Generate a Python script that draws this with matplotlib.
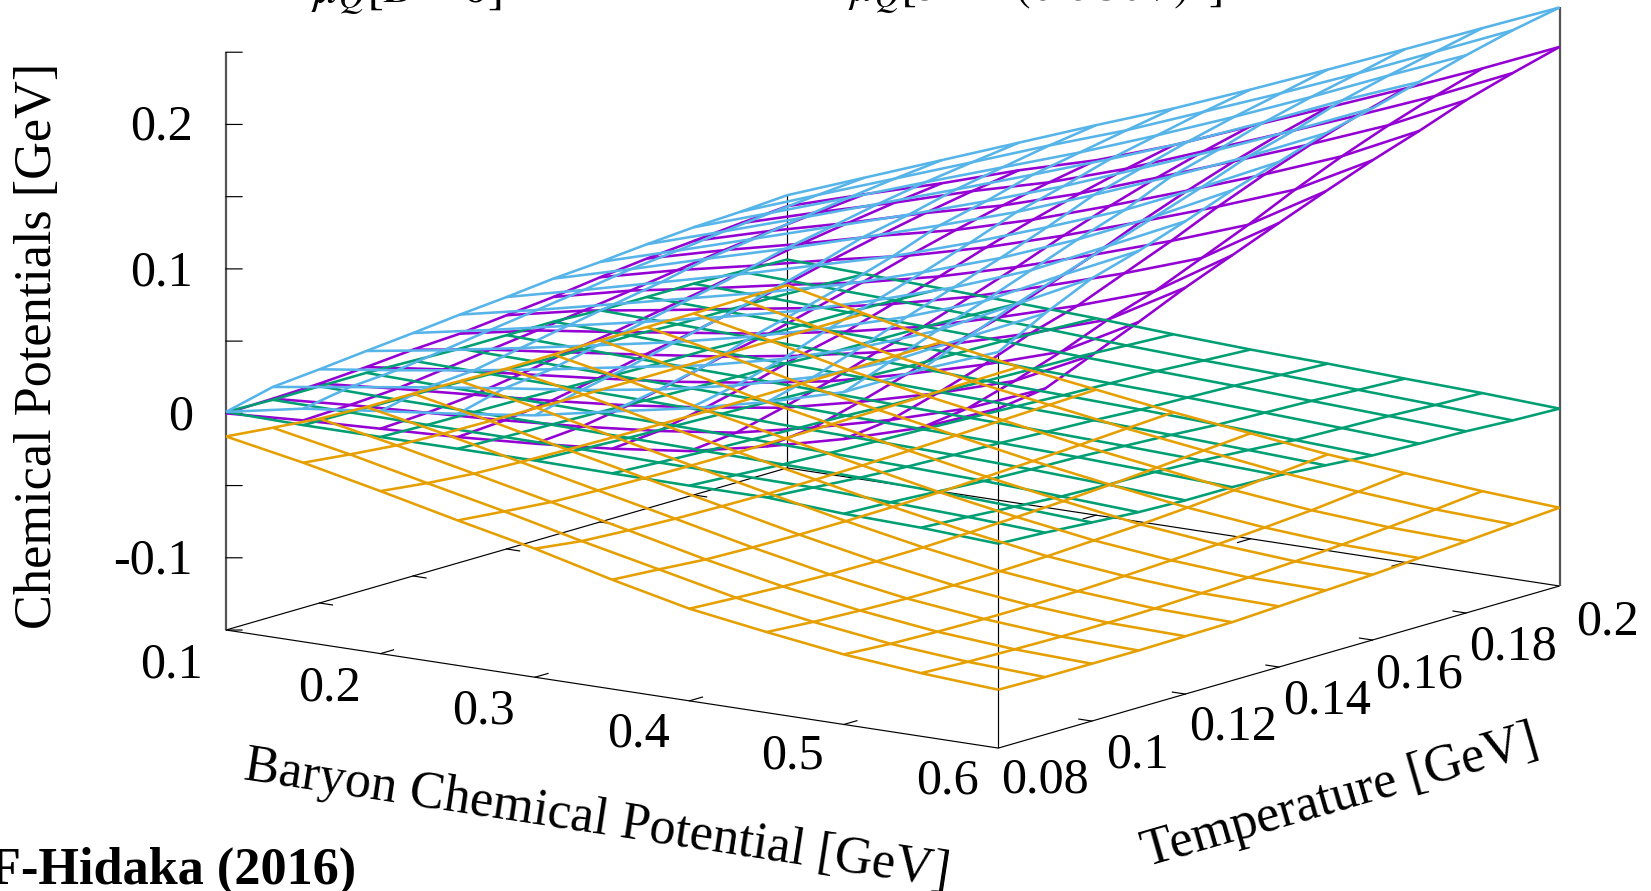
import numpy as np
import matplotlib
matplotlib.use("Agg")
import matplotlib.pyplot as plt
from mpl_toolkits.mplot3d import proj3d

plt.rcParams['font.family'] = ['Liberation Serif', 'DejaVu Serif']
plt.rcParams['mathtext.fontset'] = 'stix'

# ---- data ----
mu_b = [0.10, 0.15, 0.20, 0.25, 0.30, 0.35, 0.40, 0.45, 0.50, 0.55, 0.60]
temp = [0.08, 0.09, 0.10, 0.11, 0.12, 0.13, 0.14, 0.15, 0.16, 0.17, 0.18, 0.19, 0.20]

# rows: mu_b, columns: temperature
purple_z = [
 [0,.0008,.0019,.004,.0067,.0084,.0118,.0151,.0194,.023,.0258,.0287,.0312],
 [.0033,.0046,.0065,.0105,.0148,.0188,.0232,.0277,.0325,.037,.041,.0445,.0476],
 [.0057,.0074,.0105,.0155,.0212,.0259,.0317,.0374,.0438,.0496,.0547,.0594,.0634],
 [.0081,.0103,.0145,.0207,.0277,.0335,.0407,.048,.056,.0632,.0697,.0755,.0806],
 [.0117,.0142,.0195,.0265,.0346,.0411,.0495,.0579,.0671,.0755,.0831,.0898,.0957],
 [.0164,.0193,.0262,.034,.0433,.0507,.0605,.0702,.081,.0908,.0996,.1074,.1143],
 [.0229,.0263,.0342,.0432,.0539,.0623,.0736,.0849,.0973,.1086,.1187,.1277,.1356],
 [.0343,.038,.0465,.0563,.068,.0771,.0894,.1016,.1151,.1273,.1383,.1481,.1567],
 [.0476,.0515,.0606,.0711,.0835,.0932,.1063,.1193,.1337,.1467,.1584,.1689,.178],
 [.0636,.0677,.0773,.0882,.1011,.1114,.125,.1387,.1537,.1674,.1796,.1905,.2001],
 [.085,.0895,.1032,.1169,.1314,.1444,.1574,.17,.1821,.1931,.205,.2145,.2232],
]
green_z = [
 [.001,0,0,0,-.001,-.002,-.002,-.002,-.0035,-.0036,-.0037,-.0047,-.0057],
 [0,-.0005,-.001,-.0012,-.002,-.003,-.0035,-.0035,-.005,-.0052,-.0055,-.0065,-.0076],
 [0,-.001,-.0015,-.002,-.003,-.004,-.0048,-.005,-.0065,-.0068,-.0072,-.0083,-.0095],
 [0,-.0012,-.002,-.003,-.004,-.005,-.006,-.0065,-.008,-.0085,-.009,-.0102,-.0115],
 [0,-.0015,-.003,-.004,-.005,-.006,-.0073,-.008,-.0095,-.0102,-.0108,-.0122,-.0137],
 [-.0007,-.0025,-.004,-.0052,-.0065,-.0075,-.009,-.0098,-.0115,-.0125,-.0132,-.015,-.0166],
 [-.001,-.003,-.005,-.0065,-.0077,-.0088,-.0102,-.0115,-.0132,-.0143,-.0152,-.0172,-.019],
 [-.001,-.0035,-.006,-.0078,-.009,-.01,-.0116,-.013,-.015,-.016,-.0172,-.019,-.0206],
 [-.0041,-.0055,-.0075,-.0095,-.0108,-.0117,-.0133,-.015,-.0172,-.0183,-.0195,-.0212,-.0228],
 [-.0056,-.0075,-.0098,-.012,-.0132,-.0138,-.0152,-.0173,-.0197,-.0208,-.0218,-.0235,-.0246],
 [-.0085,-.0102,-.0125,-.0147,-.0159,-.0161,-.0173,-.0197,-.0222,-.0234,-.0242,-.026,-.0272],
]
blue_z = [
 [.001,.0089,.0118,.0151,.0182,.0216,.0244,.0278,.03,.0329,.0353,.0367,.0388],
 [.0114,.017,.0193,.0238,.0285,.033,.0375,.0425,.046,.05,.0535,.0565,.0591],
 [.0179,.025,.0274,.0335,.0395,.0452,.051,.058,.0625,.0675,.072,.076,.0794],
 [.0242,.0325,.0363,.0436,.0505,.0575,.0645,.073,.079,.0855,.091,.0955,.0997],
 [.0313,.0395,.046,.054,.062,.07,.079,.089,.0955,.1035,.1095,.1153,.12],
 [.0422,.048,.0554,.066,.0745,.0835,.0935,.1055,.113,.122,.128,.134,.1397],
 [.0525,.059,.068,.08,.09,.1,.111,.123,.1315,.141,.148,.155,.161],
 [.065,.073,.084,.096,.107,.118,.13,.143,.152,.161,.169,.176,.183],
 [.0801,.092,.104,.115,.127,.139,.15,.164,.173,.183,.191,.198,.2053],
 [.1038,.117,.13,.141,.152,.163,.174,.186,.195,.206,.214,.221,.228],
 [.1242,.1416,.1565,.1661,.1773,.1894,.1997,.2102,.2181,.227,.2361,.2441,.2505],
]
orange_z = [
 [-.016,-.0193,-.0224,-.0237,-.0238,-.0244,-.0251,-.0248,-.0242,-.0244,-.0244,-.0239,-.0235],
 [-.026,-.0296,-.0327,-.0339,-.0345,-.0348,-.035,-.0352,-.0352,-.0352,-.0352,-.0351,-.035],
 [-.0375,-.0413,-.0441,-.0454,-.0462,-.0468,-.0472,-.0475,-.0475,-.0473,-.0471,-.0468,-.0465],
 [-.0496,-.0527,-.0556,-.0569,-.0577,-.0583,-.0585,-.0583,-.0578,-.0573,-.0567,-.0561,-.0556],
 [-.061,-.0651,-.067,-.0683,-.069,-.0695,-.0693,-.0688,-.068,-.0668,-.0655,-.0643,-.0631],
 [-.0743,-.0765,-.079,-.08,-.0805,-.0805,-.08,-.0792,-.0778,-.0763,-.0745,-.0725,-.0706],
 [-.0862,-.088,-.0895,-.0905,-.0908,-.0905,-.0895,-.0882,-.0865,-.0845,-.082,-.0795,-.077],
 [-.0942,-.0965,-.098,-.099,-.0992,-.0988,-.0978,-.0962,-.0945,-.0922,-.0895,-.0865,-.0834],
 [-.1015,-.1035,-.1045,-.105,-.105,-.1045,-.1033,-.1018,-.1,-.0978,-.0952,-.0917,-.0882],
 [-.1063,-.1078,-.1085,-.109,-.1088,-.1083,-.107,-.1055,-.1037,-.1015,-.0988,-.0958,-.0925],
 [-.1096,-.1102,-.1103,-.1105,-.11,-.1096,-.108,-.1063,-.1048,-.1026,-.1004,-.098,-.0958],
]

z_ticks = [-0.15, -0.10, -0.05, 0.0, 0.05, 0.10, 0.15, 0.20, 0.25]
mu_ticks = [0.2, 0.3, 0.4, 0.5]
t_ticks = [0.10, 0.12, 0.14, 0.16, 0.18]
z_labels = ["-0.1", "0", "0.1", "0.2"]
mu_labels = ["0.1", "0.2", "0.3", "0.4", "0.5", "0.6"]
t_labels = ["0.08", "0.1", "0.12", "0.14", "0.16", "0.18", "0.2"]

W_PX, H_PX = 1651, 891
MU0, MU1 = 0.1, 0.6
T0, T1 = 0.08, 0.2
Z0, Z1 = -0.15, 0.25
FS = 37.6
FS_TICK = 36.2

fig = plt.figure(figsize=(W_PX / 100, H_PX / 100), dpi=100, facecolor='white')
ax = fig.add_axes([0, 0, 1, W_PX / H_PX], projection='3d', proj_type='ortho',
                  computed_zorder=False)
ax.view_init(elev=12.13, azim=-53.96)
ax.set_xlim(MU0, MU1)
ax.set_ylim(T0, T1)
ax.set_zlim(Z0, Z1)
ax.set_box_aspect((954.8, 953.6, 590.8))
ax.set_axis_off()


def to_px(x, y, z):
    ax.apply_aspect()
    a, b, _ = proj3d.proj_transform(x, y, z, ax.get_proj())
    return ax.transData.transform((a, b))


# place the square 3D axes so the box lands on the reference's corners
target_a = np.array([226.0, H_PX - 630.0])
target_b = np.array([1559.5, H_PX - 8.4])
pa, pb = to_px(MU0, T0, Z0), to_px(MU1, T1, Z1)
w = W_PX * (target_b[0] - target_a[0]) / (pb[0] - pa[0])
ax.set_position([0, 0, w / W_PX, w / H_PX])
pa = to_px(MU0, T0, Z0)
shift = target_a - pa
ax.set_position([shift[0] / W_PX, shift[1] / H_PX, w / W_PX, w / H_PX])

# frame
BLACK = dict(color='black', lw=0.85, zorder=1, solid_capstyle='butt')
GREY = dict(color='#555555', lw=1.6, zorder=1, solid_capstyle='butt')
for xs, ys in [((MU0, MU1), (T0, T0)), ((MU1, MU1), (T0, T1)),
               ((MU1, MU0), (T1, T1)), ((MU0, MU0), (T1, T0))]:
    ax.plot(xs, ys, (Z0, Z0), **BLACK)
ax.plot((MU0, MU0), (T0, T0), (Z0, Z1), **GREY)
ax.plot((MU1, MU1), (T1, T1), (Z0, blue_z[-1][-1]), **GREY)
ax.plot((MU1, MU1), (T0, T0), (Z0, blue_z[-1][0]), **BLACK)
ax.plot((MU0, MU0), (T1, T1), (Z0, blue_z[0][-1]), **BLACK)

# ticks
for z in z_ticks:
    ax.plot((MU0, MU0 + 0.0068), (T0, T0 + 0.00118), (z, z), color='black', lw=0.85, zorder=1)
for m in mu_ticks:
    ax.plot((m, m), (T0, T0 + 0.0028), (Z0, Z0), color='black', lw=0.85, zorder=1)
    ax.plot((m, m), (T1, T1 - 0.0028), (Z0, Z0), color='black', lw=0.85, zorder=1)
for t in t_ticks:
    ax.plot((MU0, MU0 + 0.0084), (t, t), (Z0, Z0), color='black', lw=0.85, zorder=1)
    ax.plot((MU1, MU1 - 0.0084), (t, t), (Z0, Z0), color='black', lw=0.85, zorder=1)

# surfaces
T_grid, M_grid = np.meshgrid(temp, mu_b)
for zvals, col, order in [(purple_z, '#9400D3', 2), (green_z, '#009E73', 3),
                          (blue_z, '#56B4E9', 4), (orange_z, '#E69F00', 5)]:
    ax.plot_wireframe(M_grid, T_grid, np.array(zvals), rstride=1, cstride=1,
                      color=col, lw=1.85, zorder=order)


def label(x_px, y_px, s, **kw):
    kw.setdefault('fontsize', FS)
    kw.setdefault('ha', 'center')
    kw.setdefault('va', 'center')
    return fig.text(x_px / W_PX, 1 - y_px / H_PX, s, **kw)


z_label_y = [561, 417, 273, 127]
for s, yy in zip(z_labels, z_label_y):
    label(193, yy, s, ha='right', fontsize=FS_TICK)
mu_label_xy = [(172, 665), (329, 688), (483, 711), (638, 734), (792, 756), (947, 781)]
for s, (xx, yy) in zip(mu_labels, mu_label_xy):
    label(xx, yy, s, fontsize=FS_TICK)
t_label_xy = [(1045, 780), (1138, 755), (1233, 727), (1327, 701), (1419, 675), (1513, 647), (1607, 622)]
for s, (xx, yy) in zip(t_labels, t_label_xy):
    label(xx, yy, s, fontsize=FS_TICK)

label(38, 346, "Chemical Potentials [GeV]", rotation=90)
label(597, 820, "Baryon Chemical Potential [GeV]", rotation=-8.7, rotation_mode='anchor')
label(1340, 797, "Temperature [GeV]", rotation=16.1, rotation_mode='anchor')
label(356, 871, "F-Hidaka (2016)", ha='right', fontweight='bold')
label(311, 2, r"$\mu_Q[B=0]$", ha='left', va='baseline', fontsize=36)
label(848, 2, r"$\mu_Q[5B=(0.6GeV)^{3}]$", ha='left', va='baseline', fontsize=34)

fig.savefig("out.png", dpi=100, facecolor='white')
